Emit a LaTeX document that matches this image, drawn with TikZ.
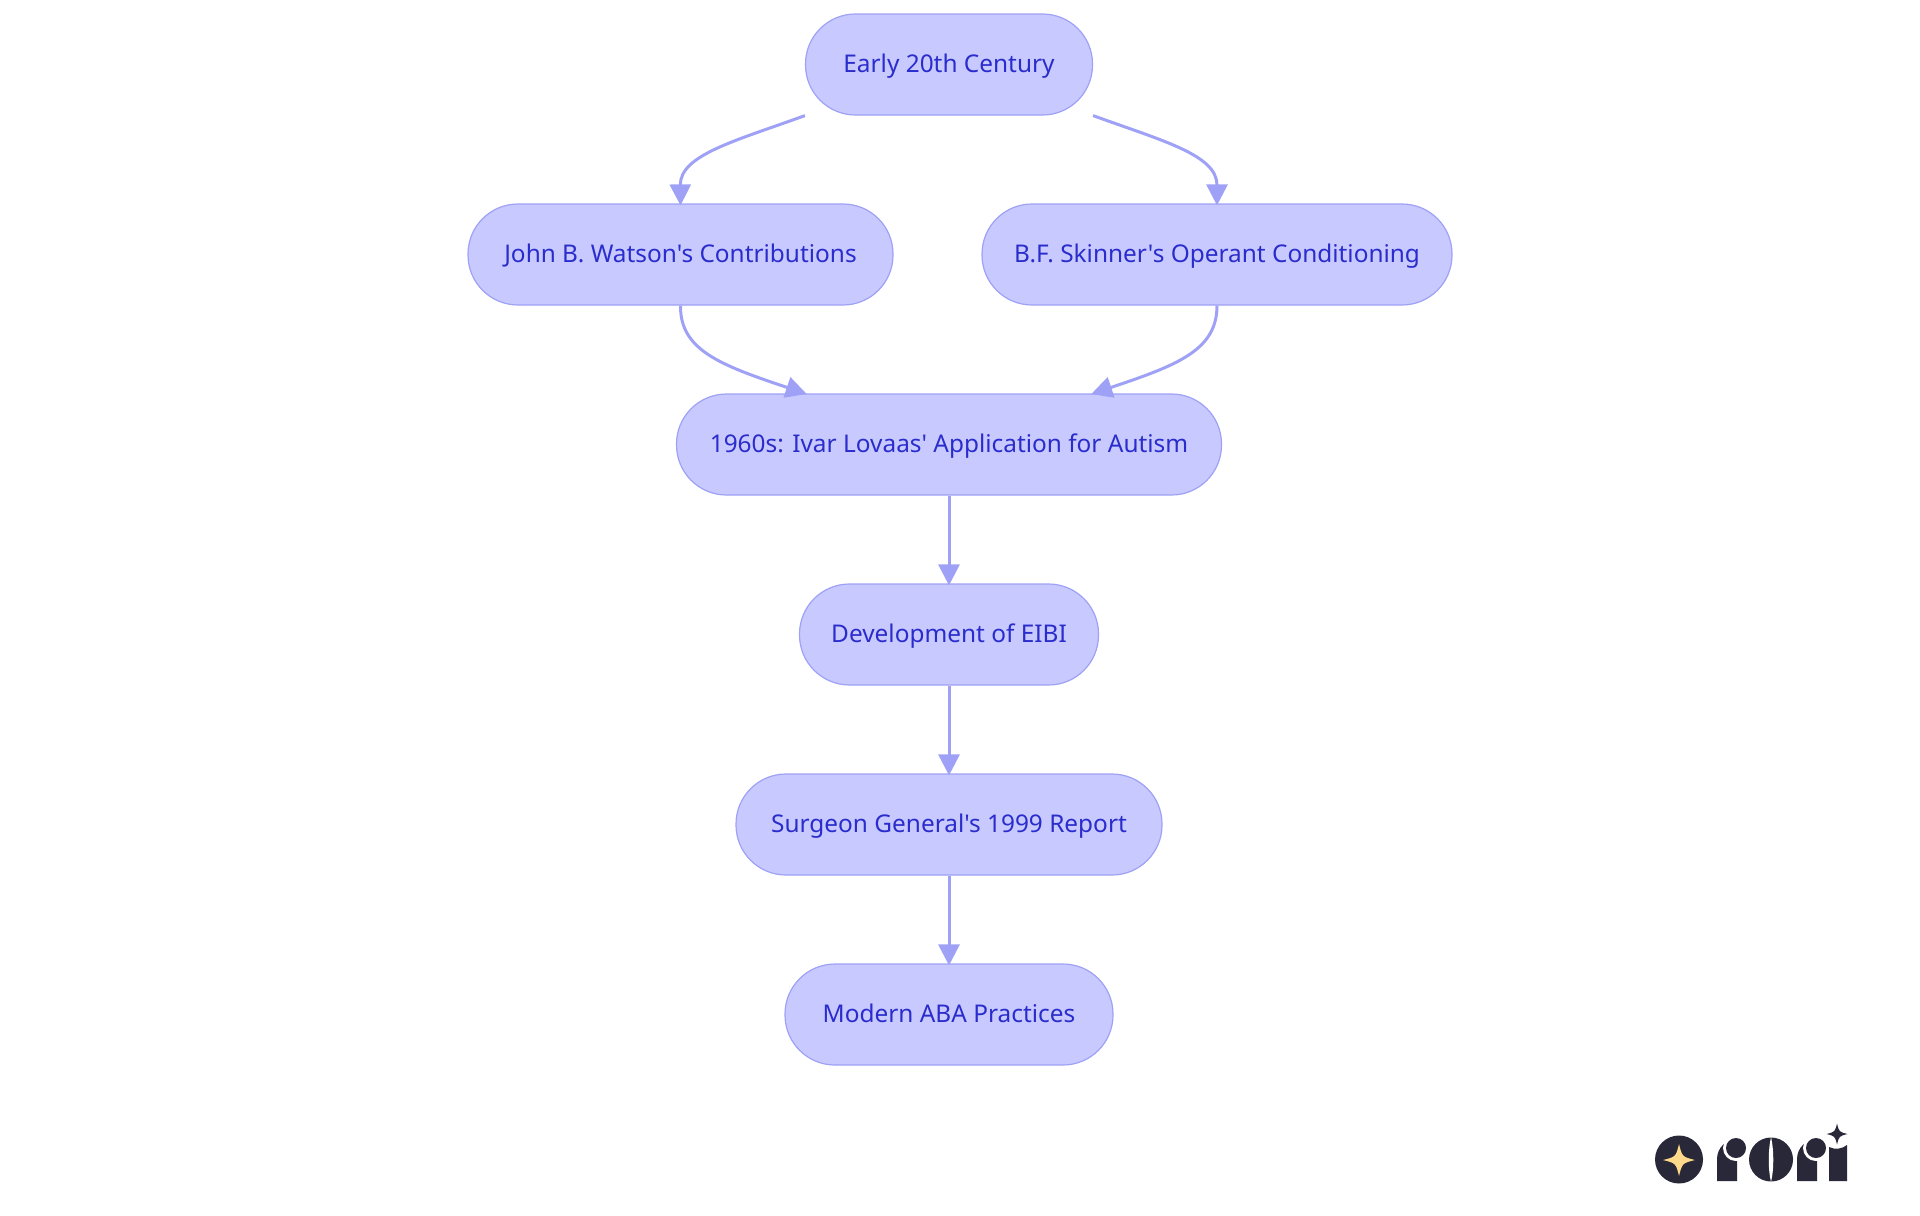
\documentclass[tikz,border=0pt]{standalone}
\usepackage{fontspec}
\newfontfamily\nodefont{Noto Sans}
\usetikzlibrary{arrows.meta}
\definecolor{nodefill}{HTML}{C8CAFF}
\definecolor{nodeedge}{HTML}{9EA1F5}
\definecolor{nodetext}{HTML}{2A2CCB}
\definecolor{logodark}{HTML}{282838}
\definecolor{logogold}{HTML}{FFD98A}
\tikzset{
  pill/.style={draw=nodeedge,fill=nodefill,text=nodetext,line width=0.6pt,rounded corners=25pt,
    minimum height=50.5pt,inner sep=0pt,text height=10pt,text depth=2.5pt,font=\nodefont\fontsize{12.2pt}{14pt}\selectfont},
  link/.style={draw=nodeedge,line width=1.5pt,shorten >=-1pt,-{Triangle[length=10.5pt,width=10.5pt,fill=nodeedge]}},
  logoink/.style={fill=logodark,draw=none},
  logohole/.style={fill=white,draw=none}
}
\newcommand{\sparkle}[4]{\fill[#4] (#1-#3,#2) .. controls (#1-#3*0.2,#2-#3*0.2) .. (#1,#2-#3) .. controls (#1+#3*0.2,#2-#3*0.2) .. (#1+#3,#2) .. controls (#1+#3*0.2,#2+#3*0.2) .. (#1,#2+#3) .. controls (#1-#3*0.2,#2+#3*0.2) .. cycle;}
\begin{document}
\begin{tikzpicture}[x=0.5pt,y=-0.5pt]
\useasboundingbox (0,0) rectangle (1920,1215);
\node[pill,minimum width=143.5pt] (n1) at (949,64.5) {Early 20th Century};
\node[pill,minimum width=212.5pt] (n2) at (680.5,254.5) {John B. Watson's Contributions};
\node[pill,minimum width=235pt] (n3) at (1217,254.5) {B.F. Skinner's Operant Conditioning};
\node[pill,minimum width=272.5pt] (n4) at (949,444.5) {1960s: Ivar Lovaas' Application for Autism};
\node[pill,minimum width=149.5pt] (n5) at (949,634.5) {Development of EIBI};
\node[pill,minimum width=213pt] (n6) at (949,824.5) {Surgeon General's 1999 Report};
\node[pill,minimum width=164pt] (n7) at (949,1014.5) {Modern ABA Practices};
\coordinate (a4l) at (n1.south west |- n4.north);
\coordinate (a4r) at (n1.south east |- n4.north);
\draw[link] (n1.south west) .. controls (735,141) and (680,155) .. (n2.north);
\draw[link] (n1.south east) .. controls (1163,141) and (1217,155) .. (n3.north);
\draw[link] (n2.south) .. controls (680,350) and (720,365) .. (a4l);
\draw[link] (n3.south) .. controls (1217,350) and (1178,365) .. (a4r);
\draw[link] (n4) -- (n5);
\draw[link] (n5) -- (n6);
\draw[link] (n6) -- (n7);
% logo
\fill[logoink] (1679,1159.5) circle (24);
\sparkle{1679}{1160}{16}{logogold}
\fill[logoink] (1717,1181) -- (1717,1159) arc[start angle=180,end angle=270,radius=20] -- (1737,1181) -- cycle;
\fill[logohole] (1736,1148) circle (13);
\fill[logoink] (1736,1148) circle (10);
\fill[logoink] (1771,1159.5) circle (22);
\fill[logohole] (1771,1137) .. controls (1768,1150) and (1768,1170) .. (1771,1182) .. controls (1774,1170) and (1774,1150) .. (1771,1137) -- cycle;
\fill[logoink] (1797,1181) -- (1797,1159) arc[start angle=180,end angle=270,radius=20] -- (1817,1181) -- cycle;
\fill[logohole] (1816,1148) circle (13);
\fill[logoink] (1816,1148) circle (10);
\fill[logoink] (1829,1181) -- (1829,1147) .. controls (1835,1150) and (1842,1149) .. (1847,1145) -- (1847,1181) -- cycle;
\sparkle{1837}{1134}{10.5}{logodark}
\end{tikzpicture}
\end{document}
